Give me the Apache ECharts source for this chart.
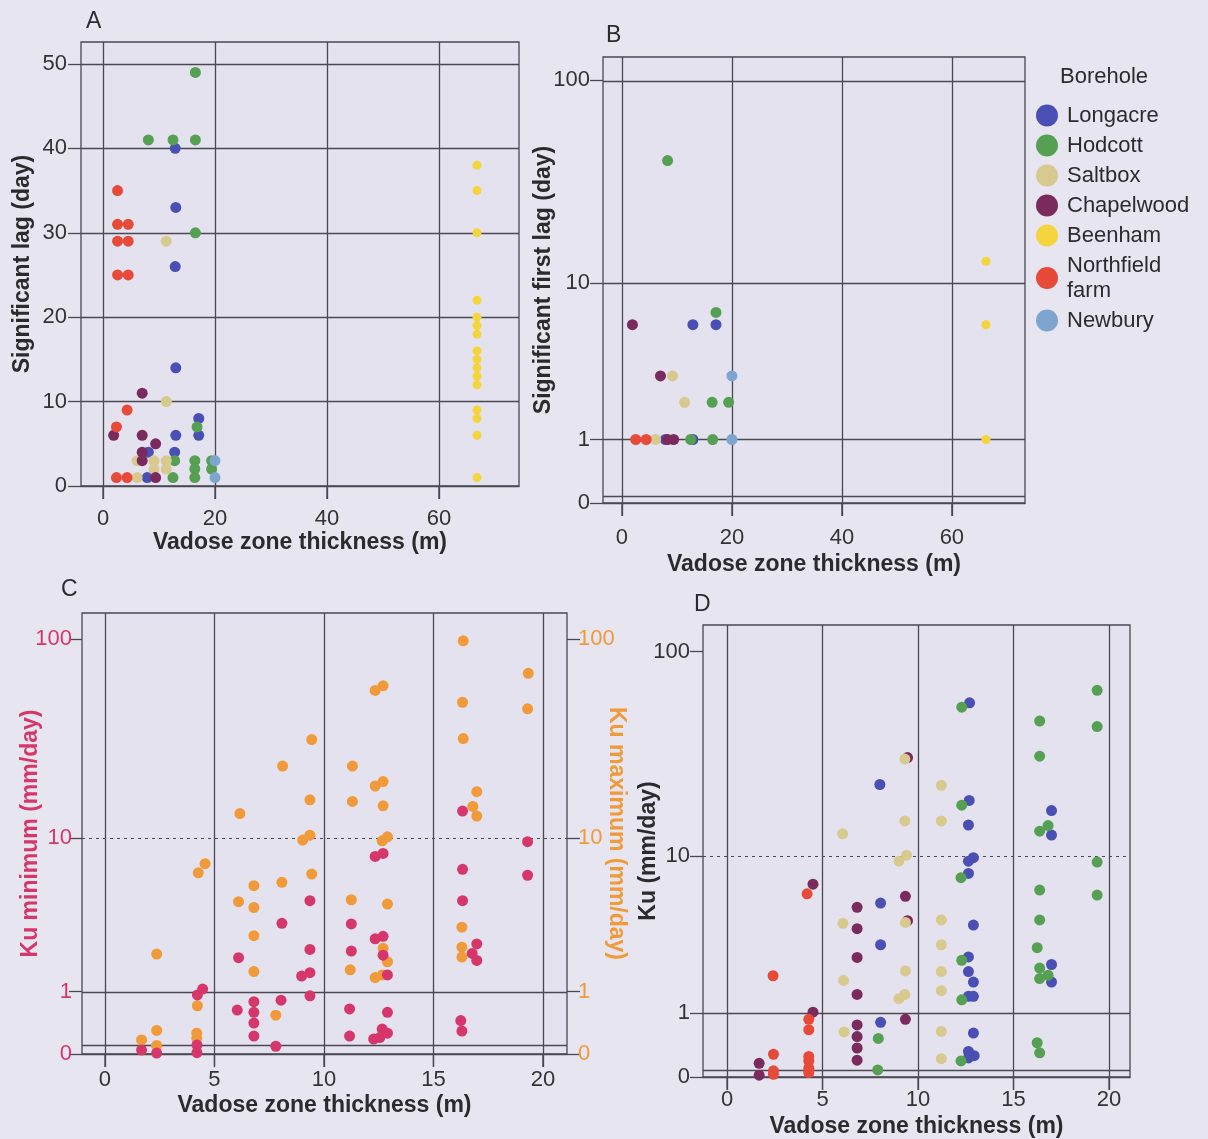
<!DOCTYPE html>
<html><head><meta charset="utf-8">
<script src="https://cdn.jsdelivr.net/npm/echarts@6/dist/echarts.min.js"></script>
<style>html,body{margin:0;padding:0;background:#e7e5f0;}#c{width:1208px;height:1139px;}</style>
</head><body><div id="c"></div>
<script>
// ---------- categories ----------
const boreholes = ['Longacre', 'Hodcott', 'Saltbox', 'Chapelwood', 'Beenham', 'Northfield\nfarm', 'Newbury'];
const boreColors = ['#4a4fb4', '#55a052', '#d8c98f', '#7b2a5d', '#f4d53d', '#e84a3a', '#7ea5cf'];

// ---------- Panel A: significant lag (day) vs vadose zone thickness (m) ----------
const A_Longacre = [[12.9,40],[13.0,33],[12.9,26],[13.0,14],[17.1,8],[13.0,6],[17.1,6],[8.1,4],[12.8,4],[7.9,1]];
const A_Hodcott = [[16.5,49],[8.1,41],[12.5,41],[16.5,41],[16.5,30],[16.8,7],[12.8,3],[16.4,3],[16.4,2],[16.4,1],[19.4,3],[19.4,2],[12.5,1]];
const A_Saltbox = [[11.3,29],[11.3,10],[6.1,3],[9.1,3],[11.3,3],[9.1,2],[11.3,2],[6.1,1]];
const A_Chapelwood = [[7.0,11],[1.9,6],[7.0,6],[9.4,5],[7.0,4],[7.0,3],[9.4,1]];
const A_Beenham = [[66.8,38],[66.8,35],[66.8,30],[66.8,22],[66.8,20],[66.8,19],[66.8,18],[66.8,16],[66.8,15],[66.8,14],[66.8,13],[66.8,12],[66.8,9],[66.8,8],[66.8,6],[66.8,1]];
const A_Northfield = [[2.6,35],[2.6,31],[4.5,31],[2.6,29],[4.5,29],[2.6,25],[4.5,25],[4.3,9],[2.4,7],[2.4,1],[4.3,1]];
const A_Newbury = [[20,3],[20,1]];

// ---------- Panel B: significant first lag (day) ----------
const B_Longacre = [[7.9,1],[12.9,6],[17.1,6],[12.9,1]];
const B_Hodcott = [[8.3,41],[17.1,7],[16.4,2],[19.4,2],[12.5,1],[16.5,1]];
const B_Saltbox = [[6.1,1],[9.2,3],[11.4,2]];
const B_Chapelwood = [[1.9,6],[7.0,3],[8.3,1],[9.4,1]];
const B_Beenham = [[66.2,13],[66.2,6],[66.2,1]];
const B_Northfield = [[2.5,1],[4.4,1]];
const B_Newbury = [[20,3],[20,1]];

// ---------- Panel C: Ku minimum / maximum (mm/day) ----------
const C_KuMin = [[9.36,4.5],[8.08,3.28],[9.36,2.2],[6.1,1.92],[9.36,1.47],[8.98,1.38],[4.46,1.06],[4.22,0.93],[9.36,0.91],[6.04,0.63],[6.8,0.79],[6.8,0.59],[6.8,0.41],[6.8,0.22],[8.04,0.82],[4.2,0.105],[4.2,0.015],[1.67,0.045],[2.36,0.01],[7.8,0.09],
  [16.33,13.9],[19.3,9.6],[12.7,8.3],[12.34,8.0],[16.33,6.8],[19.3,6.3],[16.33,4.5],[11.25,3.25],[12.34,2.6],[12.7,2.7],[16.98,2.4],[11.25,2.14],[12.7,2.0],[16.77,2.06],[16.98,1.83],[12.9,1.41],[11.17,0.65],[12.9,0.59],[16.25,0.45],[16.3,0.29],[11.17,0.22],[12.66,0.32],[12.9,0.26],[12.27,0.18],[12.55,0.2]];
const C_KuMax = [[9.44,32],[8.11,23.6],[9.36,15.9],[6.16,13.5],[9.36,10.4],[9.03,9.8],[4.57,7.3],[4.26,6.5],[9.44,6.4],[6.8,5.5],[8.08,5.75],[6.1,4.44],[6.8,4.1],[6.8,2.73],[2.36,2.04],[6.8,1.5],[4.22,0.71],[7.8,0.54],[1.67,0.17],[2.36,0.3],[2.36,0.1],[4.19,0.26],[4.19,0.19],
  [16.36,98],[19.33,68],[12.34,56],[12.7,59],[16.33,49],[19.3,45.5],[16.36,32.4],[11.3,23.6],[12.34,18.7],[12.7,19.7],[16.98,17.5],[11.3,15.6],[12.7,14.8],[16.8,14.7],[16.98,13.1],[12.9,10.2],[12.66,9.7],[11.25,4.56],[12.9,4.3],[16.3,3.1],[16.3,2.28],[12.7,2.24],[16.3,1.94],[12.9,1.79],[11.2,1.55],[12.34,1.34],[12.66,1.41]];

// ---------- Panel D: Ku (mm/day) by borehole ----------
const D_Longacre = [[8.0,22.9],[8.04,5.6],[8.04,3.2],[8.04,0.81],[12.7,57],[12.68,19.1],[16.99,17],[12.64,14.4],[16.99,12.8],[12.9,9.8],[12.64,9.4],[12.64,8.1],[12.9,4.2],[12.64,2.68],[16.99,2.39],[12.64,2.14],[12.9,1.8],[16.99,1.8],[12.64,1.4],[12.9,1.4],[12.9,0.61],[12.64,0.32],[12.94,0.26],[12.64,0.23]];
const D_Hodcott = [[7.92,0.52],[7.89,0.08],[19.38,65.4],[12.29,54.3],[16.37,46.6],[19.38,43.8],[16.37,31.5],[12.29,18.1],[16.81,14.3],[16.37,13.4],[19.38,9.3],[12.25,7.7],[16.37,6.6],[19.38,6.2],[16.37,4.5],[16.24,3.07],[12.29,2.55],[16.37,2.26],[16.81,2.02],[16.37,1.91],[12.29,1.31],[16.24,0.45],[16.37,0.3],[12.25,0.19]];
const D_Saltbox = [[9.31,30.5],[9.31,15.1],[6.05,13],[9.4,10.1],[9.0,9.4],[6.07,4.3],[9.34,4.35],[9.34,2.16],[6.1,1.85],[9.31,1.45],[9.0,1.34],[6.13,0.63],[11.22,22.7],[11.22,15.1],[11.22,4.5],[11.22,3.2],[11.22,2.14],[11.22,1.55],[11.22,0.64],[11.22,0.22]];
const D_Chapelwood = [[9.45,31],[9.45,4.45],[4.5,7.1],[9.34,6.1],[6.81,5.3],[6.81,4.0],[6.81,2.66],[6.81,1.45],[4.5,1.02],[9.34,0.87],[6.81,0.76],[6.81,0.55],[6.81,0.37],[6.81,0.2],[1.68,0.16],[1.68,0.02]];
const D_Northfield = [[4.19,6.3],[2.41,2.0],[4.28,0.87],[4.28,0.67],[2.43,0.28],[4.28,0.25],[4.28,0.19],[4.28,0.1],[4.28,0.05],[2.43,0.07],[2.43,0.03]];

// ---------- tick labels / grid lines ----------
const xTicksAB = [0, 20, 40, 60];
const yTicksA = [0, 10, 20, 30, 40, 50];
const xTicksCD = [0, 5, 10, 15, 20];
const logTickLabels = [0, 1, 10, 100];
const gridLogB = [1, 10, 100];
const gridLogCD = [1];
const dottedLogCD = [10];
const floorB = 0.065, floorC = 0.09, floorD = 0.08;

// log10(v+1) transform used by the original figure's y axes
const tf = v => Math.log10(v + 1);
const tfData = arr => arr.map(p => [p[0], tf(p[1])]);

const GRID = '#4a4852', TXT = '#2b2b2e', PINK = '#d6376b', ORANGE = '#f09a3a';
const FONT = 'Liberation Sans, Arial, Helvetica, sans-serif';

function xAx(gi, min, max, ticks, gap, margin) {
  return {
    type: 'value', gridIndex: gi, min, max, position: 'bottom',
    name: 'Vadose zone thickness (m)', nameLocation: 'middle', nameGap: gap, nameMoveOverlap: false,
    nameTextStyle: {fontSize: 23, fontWeight: 'bold', color: TXT, fontFamily: FONT},
    axisLine: {show: true, onZero: false, lineStyle: {color: GRID, width: 1.3}}, splitLine: {show: false},
    axisTick: {show: true, inside: false, customValues: ticks, length: 13, lineStyle: {color: GRID, width: 1.3}},
    axisLabel: {customValues: ticks, fontSize: 22, color: '#333', margin, fontFamily: FONT}
  };
}
function yAx(gi, min, max, ticks, name, gap, opts) {
  const o = Object.assign({color: '#333', nameColor: TXT, log: false, position: 'left', rot: 90, margin: 14}, opts || {});
  return {
    type: 'value', gridIndex: gi, min, max, position: o.position,
    name, nameLocation: 'middle', nameGap: gap, nameRotate: o.rot, nameMoveOverlap: false,
    nameTextStyle: {fontSize: 23, fontWeight: 'bold', color: o.nameColor, fontFamily: FONT},
    axisLine: {show: false, onZero: false}, splitLine: {show: false},
    axisTick: {show: true, inside: false, customValues: ticks, length: 13, lineStyle: {color: GRID, width: 1.3}},
    axisLabel: {customValues: ticks, fontSize: 22, color: o.color, margin: o.margin, fontFamily: FONT,
      formatter: o.log ? (v => String(Math.round(Math.pow(10, v) - 1))) : (v => String(v))}
  };
}
function gridSeries(xi, yi, xs, ys, dotted) {
  const data = [];
  xs.forEach(x => data.push({xAxis: x}));
  ys.forEach(y => data.push({yAxis: y}));
  (dotted || []).forEach(y => data.push({yAxis: y, lineStyle: {type: [3, 4], width: 1.2}}));
  return {
    type: 'scatter', xAxisIndex: xi, yAxisIndex: yi, data: [], silent: true, z: 1,
    markLine: {silent: true, z: 1, symbol: ['none', 'none'], animation: false,
      label: {show: false}, emphasis: {disabled: true},
      lineStyle: {color: GRID, width: 1.3, type: 'solid'}, data}
  };
}
function sc(name, data, xi, yi, color, size, z) {
  return {type: 'scatter', name, data, xAxisIndex: xi, yAxisIndex: yi, symbolSize: size,
    itemStyle: {color, opacity: 1}, z: z || 2, emphasis: {disabled: true}};
}

const setsA = [A_Longacre, A_Hodcott, A_Saltbox, A_Chapelwood, A_Beenham, A_Northfield, A_Newbury];
const setsB = [B_Longacre, B_Hodcott, B_Saltbox, B_Chapelwood, B_Beenham, B_Northfield, B_Newbury];
const setsD = [D_Longacre, D_Hodcott, D_Saltbox, D_Chapelwood, [], D_Northfield, []];

const series = [];
series.push(gridSeries(0, 0, xTicksAB, yTicksA.slice(1), []));
series.push(gridSeries(1, 1, xTicksAB, gridLogB.map(tf).concat([tf(floorB)]), []));
series.push(gridSeries(2, 2, xTicksCD, gridLogCD.map(tf).concat([tf(floorC)]), dottedLogCD.map(tf)));
series.push(gridSeries(3, 4, xTicksCD, gridLogCD.map(tf).concat([tf(floorD)]), dottedLogCD.map(tf)));

boreholes.forEach((b, i) => {
  const sz = b === 'Beenham' ? 9 : 11;
  const z = b === 'Saltbox' ? 4 : 2;
  series.push(sc(b, setsA[i], 0, 0, boreColors[i], sz));
  series.push(sc(b, tfData(setsB[i]), 1, 1, boreColors[i], sz));
  if (setsD[i].length) series.push(sc(b, tfData(setsD[i]), 3, 4, boreColors[i], 11, z));
});
series.push(sc('Ku maximum', tfData(C_KuMax), 2, 3, ORANGE, 11));
series.push(sc('Ku minimum', tfData(C_KuMin), 2, 2, PINK, 11, 3));

const logTicks = logTickLabels.map(tf);
const bg = '#e4e2ee';

const option = {
  animation: false,
  backgroundColor: '#e7e5f0',
  textStyle: {fontFamily: FONT},
  title: [
    {text: 'A', left: 86, top: 10, padding: 0, textStyle: {fontSize: 23, fontWeight: 'normal', color: TXT, fontFamily: FONT}},
    {text: 'B', left: 606, top: 24, padding: 0, textStyle: {fontSize: 23, fontWeight: 'normal', color: TXT, fontFamily: FONT}},
    {text: 'C', left: 61, top: 578, padding: 0, textStyle: {fontSize: 23, fontWeight: 'normal', color: TXT, fontFamily: FONT}},
    {text: 'D', left: 694, top: 593, padding: 0, textStyle: {fontSize: 23, fontWeight: 'normal', color: TXT, fontFamily: FONT}},
    {text: 'Borehole', left: 1060, top: 66, padding: 0, textStyle: {fontSize: 22, fontWeight: 'normal', color: TXT, fontFamily: FONT}}
  ],
  legend: {
    orient: 'vertical', left: 1036, top: 103, padding: 0, itemGap: 5,
    data: boreholes, icon: 'circle', itemWidth: 22, itemHeight: 22, selectedMode: false,
    textStyle: {fontSize: 22, lineHeight: 25, color: TXT, fontFamily: FONT, padding: [0, 0, 0, 4]}
  },
  grid: [
    {left: 81, top: 42, width: 438, height: 444, show: true, backgroundColor: bg, borderColor: GRID, borderWidth: 1.3},
    {left: 603, top: 57, width: 422, height: 446, show: true, backgroundColor: bg, borderColor: GRID, borderWidth: 1.3},
    {left: 82, top: 613, width: 485, height: 441, show: true, backgroundColor: bg, borderColor: GRID, borderWidth: 1.3},
    {left: 703, top: 625, width: 427, height: 452, show: true, backgroundColor: bg, borderColor: GRID, borderWidth: 1.3}
  ],
  xAxis: [
    xAx(0, -3.93, 74.3, xTicksAB, 45, 22),
    xAx(1, -3.45, 73.3, xTicksAB, 50, 24),
    xAx(2, -1.05, 21.1, xTicksCD, 40, 15),
    xAx(3, -1.26, 21.1, xTicksCD, 38, 12)
  ],
  yAxis: [
    yAx(0, 0, 52.6, yTicksA, 'Significant lag (day)', 47),
    yAx(1, 0, 2.114, logTicks, 'Significant first lag (day)', 48, {log: true, margin: 13}),
    yAx(2, 0, 2.13, logTicks, 'Ku minimum (mm/day)', 40, {log: true, color: PINK, nameColor: PINK, margin: 10}),
    yAx(2, 0, 2.13, logTicks, 'Ku maximum (mm/day)', 38, {log: true, color: ORANGE, nameColor: ORANGE, position: 'right', rot: -90, margin: 11}),
    yAx(3, 0, 2.13, logTicks, 'Ku (mm/day)', 43, {log: true, margin: 13})
  ],
  series
};

const chart = echarts.init(document.getElementById('c'), null, {renderer: 'canvas'});
chart.setOption(option);

// outward x tick stubs under each panel, positioned through the chart's own scales
const tickPanels = [[0, xTicksAB], [1, xTicksAB], [2, xTicksCD], [3, xTicksCD]];
const stubs = [];
tickPanels.forEach(([gi, xs]) => {
  xs.forEach(x => {
    const p = chart.convertToPixel({gridIndex: gi}, [x, 0]);
    stubs.push({type: 'line', silent: true, z: 50,
      shape: {x1: p[0], y1: p[1], x2: p[0], y2: p[1] + 13},
      style: {stroke: GRID, lineWidth: 1.3}});
  });
});
chart.setOption({graphic: {elements: stubs}});
</script>
</body></html>
